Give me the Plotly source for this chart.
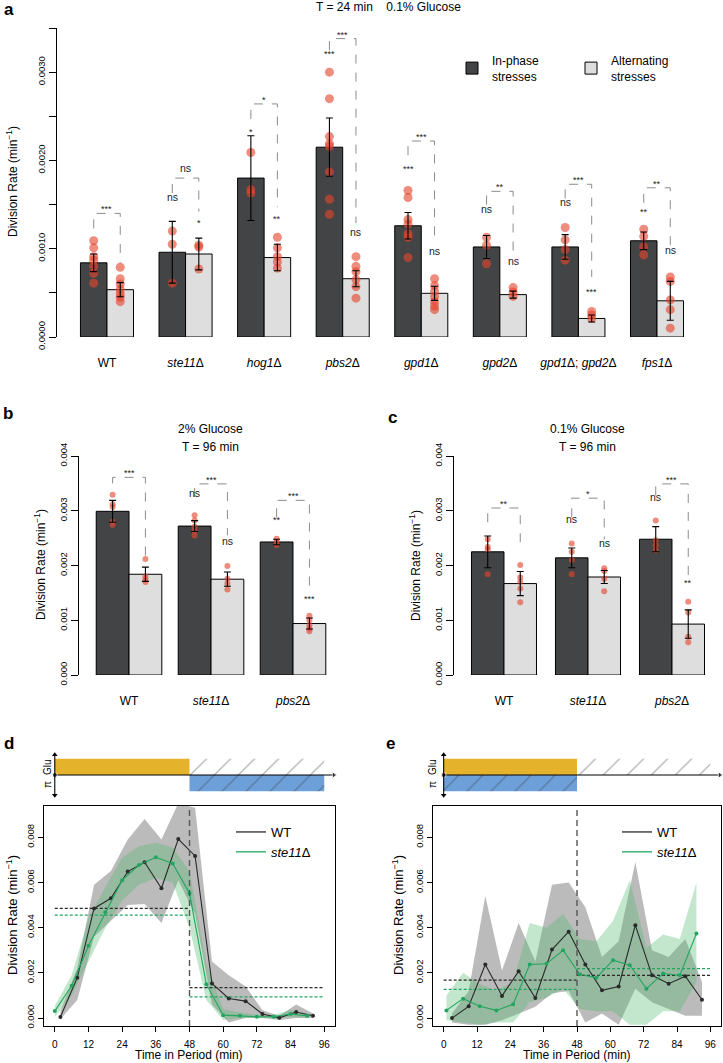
import plotly.graph_objects as go

W, H = 723, 1063
FONT = "Liberation Sans, Arial, Helvetica, sans-serif"

# ---------------- DATA ----------------
# Panel a: T = 24 min, 0.1% glucose
a_labels = ["WT", "<i>ste11</i>Δ", "<i>hog1</i>Δ", "<i>pbs2</i>Δ", "<i>gpd1</i>Δ",
            "<i>gpd2</i>Δ", "<i>gpd1</i>Δ; <i>gpd2</i>Δ", "<i>fps1</i>Δ"]
a_inphase = [0.00084, 0.00096, 0.00180, 0.00215, 0.00126, 0.00102, 0.00102, 0.00109]
a_alt = [0.000536, 0.00094, 0.00090, 0.00066, 0.000495, 0.00048, 0.00021, 0.00041]
a_inphase_se = [0.00010, 0.00035, 0.00048, 0.00033, 0.00015, 0.00013, 0.00014, 0.00010]
a_alt_se = [0.00008, 0.00018, 0.00015, 0.00009, 0.00008, 0.00004, 0.00004, 0.00022]
a_inphase_pts = [
    [0.00109, 0.00101, 0.00091, 0.00087, 0.00080, 0.00072, 0.00061],
    [0.00120, 0.00105, 0.00061],
    [0.00209, 0.00167, 0.00163],
    [0.00300, 0.00270, 0.00227, 0.00219, 0.00216, 0.00187, 0.00156, 0.00139],
    [0.00166, 0.00158, 0.00133, 0.00128, 0.00117, 0.00113, 0.00090],
    [0.00113, 0.00104, 0.00083],
    [0.00124, 0.00110, 0.00099, 0.00087],
    [0.00122, 0.00114, 0.00102, 0.00093]]
a_alt_pts = [
    [0.00079, 0.00066, 0.00060, 0.00054, 0.00049, 0.00045, 0.00040],
    [0.00104, 0.00102, 0.00077],
    [0.00113, 0.00101, 0.00091, 0.00085, 0.00078],
    [0.00091, 0.00080, 0.00074, 0.00065, 0.00057, 0.00044],
    [0.00066, 0.00058, 0.00052, 0.00046, 0.00040, 0.00035, 0.00031],
    [0.00056, 0.00051, 0.00046],
    [0.00029, 0.00025, 0.00021],
    [0.00068, 0.00063, 0.00042, 0.00031, 0.00010]]
a_sig_pair = ["***", "ns", "*", "***", "***", "**", "***", "**"]
a_sig_inphase = ["", "ns", "*", "***", "***", "ns", "ns", "**"]
a_sig_alt = ["", "*", "**", "ns", "ns", "ns", "***", "ns"]
a_br_top = [0.00140, 0.00180, 0.00264, 0.00338, 0.00222, 0.00165, 0.00173, 0.00169]
a_br_left = [0.00123, 0.00163, 0.00247, 0.00325, 0.00206, 0.00150, 0.00157, 0.00152]
a_br_right = [0.00084, 0.00142, 0.00147, 0.00129, 0.00106, 0.00093, 0.00068, 0.00104]
a_lab_inphase = [0, 0.00147, 0.00228, 0.00316, 0.00186, 0.00134, 0.00142, 0.00137]
a_lab_alt = [0, 0.00125, 0.00129, 0.00108, 0.00086, 0.00075, 0.00046, 0.00087]

# Panel b: 2% glucose, T = 96 min
bc_labels = ["WT", "<i>ste11</i>Δ", "<i>pbs2</i>Δ"]
b_inphase = [0.00299, 0.00272, 0.00243]
b_alt = [0.00184, 0.00175, 0.00094]
b_inphase_se = [0.00020, 0.00010, 0.00005]
b_alt_se = [0.00013, 0.00013, 0.00010]
b_inphase_pts = [[0.00329, 0.00312, 0.00307, 0.00280, 0.00274],
                 [0.00292, 0.00282, 0.00271, 0.00263, 0.00255],
                 [0.00249, 0.00243, 0.00237]]
b_alt_pts = [[0.00212, 0.00180, 0.00175, 0.00170],
             [0.00199, 0.00176, 0.00167, 0.00156],
             [0.00108, 0.00100, 0.00091, 0.00085, 0.00080]]
b_sig_pair = ["***", "***", "***"]
b_sig_inphase = ["", "ns", "**"]
b_sig_alt = ["", "ns", "***"]
b_br_top = [0.00361, 0.00349, 0.00319]
b_br_left = [0.00350, 0.00325, 0.00288]
b_br_right = [0.00214, 0.00255, 0.00150]
b_lab_inphase = [0, 0.00314, 0.00276]
b_lab_alt = [0, 0.00226, 0.00131]

# Panel c: 0.1% glucose, T = 96 min
c_inphase = [0.00225, 0.00214, 0.00248]
c_alt = [0.00167, 0.00179, 0.00093]
c_inphase_se = [0.00029, 0.00018, 0.00023]
c_alt_se = [0.00022, 0.00012, 0.00026]
c_inphase_pts = [[0.00248, 0.00234, 0.00229, 0.00184],
                 [0.00240, 0.00225, 0.00210, 0.00184],
                 [0.00282, 0.00246, 0.00237, 0.00228]]
c_alt_pts = [[0.00201, 0.00178, 0.00170, 0.00158, 0.00133],
             [0.00195, 0.00190, 0.00176, 0.00153],
             [0.00134, 0.00114, 0.00070, 0.00060]]
c_sig_pair = ["**", "*", "***"]
c_sig_inphase = ["", "ns", "ns"]
c_sig_alt = ["", "ns", "**"]
c_br_top = [0.00305, 0.00323, 0.00349]
c_br_left = [0.00279, 0.00288, 0.00328]
c_br_right = [0.00226, 0.00248, 0.00179]
c_lab_inphase = [0, 0.00266, 0.00307]
c_lab_alt = [0, 0.00223, 0.00161]

# Panel d: time course, in-phase
period = [0, 48, 96]
d_t_wt = [2, 8, 14, 20, 26, 32, 38, 44, 50, 56, 62, 68, 74, 80, 86, 92]
d_wt = [0.00005, 0.00178, 0.00485, 0.00530, 0.00648, 0.00689, 0.00574, 0.00792,
        0.00717, 0.00153, 0.00087, 0.00075, 0.00018, 0.00001, 0.00027, 0.00010]
d_wt_hi = [0.00030, 0.00220, 0.00590, 0.00650, 0.00790, 0.00880, 0.00790, 0.00950,
           0.00930, 0.00250, 0.00190, 0.00140, 0.00035, 0.00010, 0.00060, 0.00020]
d_wt_lo = [-0.00005, 0.00080, 0.00360, 0.00430, 0.00500, 0.00505, 0.00420, 0.00610,
           0.00460, 0.00060, -0.00020, 0.00000, 0.00000, -0.00008, 0.00000, 0.00000]
d_t_ste = [0, 6, 12, 18, 24, 30, 36, 42, 48, 54, 60, 66, 72, 78, 84, 90]
d_ste = [0.00031, 0.00143, 0.00320, 0.00468, 0.00610, 0.00677, 0.00711, 0.00684,
         0.00552, 0.00150, 0.00013, 0.00010, 0.00006, 0.00006, 0.00018, 0.00010]
d_ste_hi = [0.00055, 0.00190, 0.00440, 0.00580, 0.00710, 0.00760, 0.00775, 0.00755,
            0.00650, 0.00240, 0.00040, 0.00025, 0.00015, 0.00015, 0.00035, 0.00020]
d_ste_lo = [0.00005, 0.00100, 0.00250, 0.00400, 0.00520, 0.00590, 0.00620, 0.00600,
            0.00400, 0.00080, -0.00008, 0.00000, 0.00000, 0.00000, 0.00005, 0.00000]
d_wt_mean = [0.00485, 0.00135]
d_ste_mean = [0.00455, 0.00094]

# Panel e: time course, alternating
e_t_wt = [3, 9, 15, 21, 27, 33, 39, 45, 51, 57, 63, 69, 75, 81, 87, 93]
e_wt = [0.00000, 0.00052, 0.00237, 0.00098, 0.00207, 0.00089, 0.00303, 0.00382,
        0.00237, 0.00123, 0.00140, 0.00411, 0.00189, 0.00152, 0.00185, 0.00081]
e_wt_hi = [0.00020, 0.00120, 0.00540, 0.00210, 0.00420, 0.00250, 0.00590, 0.00600,
           0.00490, 0.00270, 0.00340, 0.00690, 0.00300, 0.00270, 0.00350, 0.00160]
e_wt_lo = [-0.00020, -0.00030, -0.00030, -0.00010, 0.00020, 0.00050, 0.00110, 0.00120,
           -0.00020, 0.00020, -0.00030, 0.00130, 0.00070, 0.00040, 0.00010, 0.00010]
e_t_ste = [1, 7, 13, 19, 25, 31, 37, 43, 49, 55, 61, 67, 73, 79, 85, 91]
e_ste = [0.00034, 0.00086, 0.00052, 0.00034, 0.00061, 0.00237, 0.00240, 0.00300,
         0.00194, 0.00178, 0.00256, 0.00234, 0.00130, 0.00197, 0.00189, 0.00374]
e_ste_hi = [0.00100, 0.00200, 0.00150, 0.00120, 0.00160, 0.00420, 0.00400, 0.00460,
            0.00350, 0.00340, 0.00430, 0.00610, 0.00310, 0.00370, 0.00350, 0.00600]
e_ste_lo = [-0.00010, -0.00020, -0.00030, -0.00020, -0.00020, 0.00070, 0.00090, 0.00130,
            0.00040, 0.00030, 0.00030, -0.00030, -0.00030, 0.00030, 0.00030, 0.00160]
e_wt_mean = [0.00168, 0.00189]
e_ste_mean = [0.00127, 0.00219]

# ---------------- STYLE ----------------
DARK = "#434445"
LIGHT = "#dedede"
PT = "rgba(228,70,45,0.62)"
GREEN = "#22a561"
BLACKL = "#2a2a2a"
YELLOW = "#e4b22b"
BLUE = "#6d9fd9"


def xdom(a, b):
    return [a / W, b / W]


def ydom(top, bottom):
    return [1 - bottom / H, 1 - top / H]


fig = go.Figure()
annotations = []
shapes = []


def bar_panel(n, labels, inph, alt, inse, altse, inpts, altpts, bw, ptsize,
              sig_pair, sig_in, sig_alt, br_top, br_l, br_r, lab_in, lab_alt, legend):
    xa, ya = "x" + ("" if n == 1 else str(n)), "y" + ("" if n == 1 else str(n))
    idx = list(range(len(labels)))
    fig.add_trace(go.Bar(x=idx, y=inph, width=bw, offset=-bw, xaxis=xa, yaxis=ya,
                         marker=dict(color=DARK, line=dict(color="black", width=1)),
                         name="In-phase<br>stresses", showlegend=legend, hoverinfo="skip"))
    fig.add_trace(go.Bar(x=idx, y=alt, width=bw, offset=0, xaxis=xa, yaxis=ya,
                         marker=dict(color=LIGHT, line=dict(color="black", width=1)),
                         name="Alternating<br>stresses", showlegend=legend, hoverinfo="skip"))
    for i in idx:
        for pts, off in ((inpts[i], -bw / 2), (altpts[i], bw / 2)):
            fig.add_trace(go.Scatter(x=[i + off] * len(pts), y=pts, mode="markers",
                                     xaxis=xa, yaxis=ya, showlegend=False, hoverinfo="skip",
                                     marker=dict(size=ptsize, color=PT, line=dict(width=0))))
    for vals, se, off in ((inph, inse, -bw / 2), (alt, altse, bw / 2)):
        fig.add_trace(go.Scatter(x=[i + off for i in idx], y=vals, mode="markers",
                                 xaxis=xa, yaxis=ya, showlegend=False, hoverinfo="skip",
                                 marker=dict(size=1, opacity=0),
                                 error_y=dict(type="data", array=se, color="black",
                                              thickness=1.1, width=3.5)))
    for i in idx:
        x0, x1 = i - bw / 2, i + bw / 2
        shapes.append(dict(type="path", xref=xa, yref=ya,
                           path=f"M {x0},{br_l[i]} L {x0},{br_top[i]} L {x1},{br_top[i]} L {x1},{br_r[i]}",
                           line=dict(color="#8c8c8c", width=1, dash="dash")))
        for txt, xx, yy in ((sig_pair[i], i, br_top[i]), (sig_in[i], x0, lab_in[i]),
                            (sig_alt[i], x1, lab_alt[i])):
            if not txt:
                continue
            star = txt.startswith("*")
            annotations.append(dict(x=xx, y=yy, xref=xa, yref=ya, text=txt, showarrow=False,
                                    yanchor="bottom", yshift=(-3 if star else 2),
                                    font=dict(size=(9 if star else 10.5), color="#222")))


bar_panel(1, a_labels, a_inphase, a_alt, a_inphase_se, a_alt_se, a_inphase_pts, a_alt_pts,
          0.3376, 9, a_sig_pair, a_sig_inphase, a_sig_alt, a_br_top, a_br_left, a_br_right,
          a_lab_inphase, a_lab_alt, True)
bar_panel(2, bc_labels, b_inphase, b_alt, b_inphase_se, b_alt_se, b_inphase_pts, b_alt_pts,
          0.40, 6, b_sig_pair, b_sig_inphase, b_sig_alt, b_br_top, b_br_left, b_br_right,
          b_lab_inphase, b_lab_alt, False)
bar_panel(3, bc_labels, c_inphase, c_alt, c_inphase_se, c_alt_se, c_inphase_pts, c_alt_pts,
          0.387, 6, c_sig_pair, c_sig_inphase, c_sig_alt, c_br_top, c_br_left, c_br_right,
          c_lab_inphase, c_lab_alt, False)


def time_panel(n, legend_name, t_wt, wt, wt_hi, wt_lo, t_ste, ste, ste_hi, ste_lo, wt_mean, ste_mean):
    xa, ya = "x" + str(n), "y" + str(n)
    fig.add_trace(go.Scatter(x=t_wt + t_wt[::-1], y=wt_hi + wt_lo[::-1], fill="toself",
                             fillcolor="rgba(120,120,120,0.5)", line=dict(width=0),
                             mode="lines", xaxis=xa, yaxis=ya, showlegend=False, hoverinfo="skip"))
    fig.add_trace(go.Scatter(x=t_ste + t_ste[::-1], y=ste_hi + ste_lo[::-1], fill="toself",
                             fillcolor="rgba(80,185,110,0.35)", line=dict(width=0),
                             mode="lines", xaxis=xa, yaxis=ya, showlegend=False, hoverinfo="skip"))
    for k in range(2):
        for m, col in ((wt_mean[k], BLACKL), (ste_mean[k], GREEN)):
            fig.add_trace(go.Scatter(x=[period[k], period[k + 1]], y=[m, m], mode="lines",
                                     line=dict(color=col, width=1.3, dash="3px,2px"),
                                     xaxis=xa, yaxis=ya, showlegend=False, hoverinfo="skip"))
    fig.add_trace(go.Scatter(x=t_wt, y=wt, mode="lines+markers", showlegend=False,
                             line=dict(color=BLACKL, width=1.1), marker=dict(size=4, color=BLACKL),
                             xaxis=xa, yaxis=ya))
    fig.add_trace(go.Scatter(x=t_ste, y=ste, mode="lines+markers", showlegend=False,
                             line=dict(color=GREEN, width=1.1), marker=dict(size=4, color=GREEN),
                             xaxis=xa, yaxis=ya))
    # legend entries (line only, as in the original key)
    for name, col in (("WT", BLACKL), ("<i>ste11</i>Δ", GREEN)):
        fig.add_trace(go.Scatter(x=[None], y=[None], mode="lines", name=name,
                                 line=dict(color=col, width=1.3), xaxis=xa, yaxis=ya,
                                 legend=legend_name))
    shapes.append(dict(type="line", xref=xa, yref=ya + " domain", x0=period[1], x1=period[1],
                       y0=0, y1=1, line=dict(color="#555", width=1.4, dash="6px,4px")))


time_panel(4, "legend2", d_t_wt, d_wt, d_wt_hi, d_wt_lo, d_t_ste, d_ste, d_ste_hi, d_ste_lo,
           d_wt_mean, d_ste_mean)
time_panel(5, "legend3", e_t_wt, e_wt, e_wt_hi, e_wt_lo, e_t_ste, e_ste, e_ste_hi, e_ste_lo,
           e_wt_mean, e_ste_mean)


# Stimulus diagrams (glucose above axis, osmotic stress below)
def block(n, x0, x1, y0, y1, color, hatch):
    xa, ya = "x" + str(n), "y" + str(n)
    kw = dict(x=[x0, x1, x1, x0, x0], y=[y0, y0, y1, y1, y0], fill="toself", mode="lines",
              line=dict(width=0), xaxis=xa, yaxis=ya, showlegend=False, hoverinfo="skip",
              fillcolor=color)
    if hatch:
        kw["fillpattern"] = dict(shape="/", bgcolor=color, fgcolor="#3a3a3a", size=17, solidity=0.06)
    fig.add_trace(go.Scatter(**kw))


# d: in-phase -> glucose first half, osmotic second half
block(6, period[0], period[1], 0, 1, YELLOW, False)
block(6, period[1], period[2], 0, 1, "rgba(255,255,255,0)", True)
block(6, period[1], period[2], -1, 0, BLUE, True)
# e: alternating
block(7, period[0], period[1], 0, 1, YELLOW, False)
block(7, period[0], period[1], -1, 0, BLUE, True)
block(7, period[1], period[2], 0, 1, "rgba(255,255,255,0)", True)

# diagram axes: horizontal time arrow and vertical double-headed level arrow
for n in (6, 7):
    xa, ya = "x" + str(n), "y" + str(n)
    fig.add_trace(go.Scatter(x=[0, 99.4], y=[0, 0], mode="lines+markers", xaxis=xa, yaxis=ya,
                             line=dict(color="black", width=1.1), cliponaxis=False,
                             marker=dict(symbol=["circle", "triangle-right"], size=[5, 6],
                                         color="black"),
                             showlegend=False, hoverinfo="skip"))
    fig.add_trace(go.Scatter(x=[0, 0], y=[-1.25, 1.25], mode="lines+markers", xaxis=xa, yaxis=ya,
                             line=dict(color="black", width=1.1), cliponaxis=False,
                             marker=dict(symbol=["triangle-down", "triangle-up"], size=5,
                                         color="black"),
                             showlegend=False, hoverinfo="skip"))

# ---------------- AXES ----------------
yt_a = [0, 0.001, 0.002, 0.003]
yt_a_txt = ["0.0000", "0.0010", "0.0020", "0.0030"]
yt_bc = [0, 0.001, 0.002, 0.003, 0.004]
yt_bc_txt = ["0.000", "0.001", "0.002", "0.003", "0.004"]
yt_de = [0, 0.002, 0.004, 0.006, 0.008]
yt_de_txt = ["0.000", "0.002", "0.004", "0.006", "0.008"]
xt_de = [0, 12, 24, 36, 48, 60, 72, 84, 96]

cat_axis = dict(showline=False, ticks="", zeroline=False, showgrid=False,
                tickfont=dict(size=12), ticklabelstandoff=17)
val_axis = dict(showline=True, linecolor="black", linewidth=1, ticks="outside", ticklen=7,
                tickcolor="black", tickangle=-90, zeroline=False, showgrid=False,
                tickfont=dict(size=9.5))
box_x = dict(showline=True, mirror=True, linecolor="black", linewidth=1.2, ticks="outside",
             ticklen=5, tickcolor="black", zeroline=False, showgrid=False,
             tickfont=dict(size=10), range=[-3.84, 99.84], tickvals=xt_de,
             ticklabelstandoff=4)
box_y = dict(showline=True, mirror=True, linecolor="black", linewidth=1.2, ticks="outside",
             ticklen=5, tickcolor="black", zeroline=False, showgrid=False, tickangle=-90,
             tickfont=dict(size=9.5), range=[-0.00035, 0.00938], tickvals=yt_de,
             ticktext=yt_de_txt)
hidden = dict(visible=False, showgrid=False, zeroline=False)

fig.update_layout(
    width=W, height=H, autosize=False,
    margin=dict(l=0, r=0, t=0, b=0, pad=0, autoexpand=False),
    paper_bgcolor="white", plot_bgcolor="white",
    font=dict(family=FONT, color="black", size=12),
    barmode="overlay",
    xaxis=dict(cat_axis, domain=xdom(57, 712), range=[-0.636, 7.70], tickvals=list(range(8)),
               ticktext=a_labels, anchor="y"),
    yaxis=dict(val_axis, domain=ydom(28, 337), range=[0, 0.0035], tickvals=yt_a,
               ticktext=yt_a_txt, anchor="x",
               minor=dict(tickvals=[0.0005, 0.0015, 0.0025, 0.0035], ticks="outside",
                          ticklen=7, tickcolor="black", showgrid=False)),
    xaxis2=dict(cat_axis, domain=xdom(79, 345), range=[-0.61, 2.634], tickvals=[0, 1, 2],
                ticktext=bc_labels, anchor="y2"),
    yaxis2=dict(val_axis, domain=ydom(456, 675), range=[0, 0.004], tickvals=yt_bc,
                ticktext=yt_bc_txt, anchor="x2"),
    xaxis3=dict(cat_axis, domain=xdom(454, 715), range=[-0.595, 2.512], tickvals=[0, 1, 2],
                ticktext=bc_labels, anchor="y3"),
    yaxis3=dict(val_axis, domain=ydom(456, 675), range=[0, 0.004], tickvals=yt_bc,
                ticktext=yt_bc_txt, anchor="x3"),
    xaxis4=dict(box_x, domain=xdom(44, 335), anchor="y4"),
    yaxis4=dict(box_y, domain=ydom(806, 1026), anchor="x4"),
    xaxis5=dict(box_x, domain=xdom(433, 721), anchor="y5"),
    yaxis5=dict(box_y, domain=ydom(806, 1026), anchor="x5"),
    xaxis6=dict(hidden, domain=xdom(44, 335), range=[-3.84, 99.84], anchor="y6"),
    yaxis6=dict(hidden, domain=ydom(753, 797), range=[-1.35, 1.35], anchor="x6"),
    xaxis7=dict(hidden, domain=xdom(433, 721), range=[-3.84, 99.84], anchor="y7"),
    yaxis7=dict(hidden, domain=ydom(753, 797), range=[-1.35, 1.35], anchor="x7"),
    legend=dict(orientation="h", x=452 / W, y=1 - 46 / H, xanchor="left", yanchor="top",
                bgcolor="rgba(0,0,0,0)", font=dict(size=12), entrywidth=74,
                entrywidthmode="pixels", traceorder="normal"),
    legend2=dict(x=231 / W, y=1 - 817 / H, xanchor="left", yanchor="top",
                 bgcolor="rgba(0,0,0,0)", font=dict(size=13)),
    legend3=dict(x=617 / W, y=1 - 817 / H, xanchor="left", yanchor="top",
                 bgcolor="rgba(0,0,0,0)", font=dict(size=13)),
)


def txt(x, y, s, size=12, angle=0, bold=False):
    annotations.append(dict(x=x / W, y=1 - y / H, xref="paper", yref="paper", text=s,
                            showarrow=False, textangle=angle, xanchor="center", yanchor="middle",
                            font=dict(size=size, family=FONT, weight=("bold" if bold else "normal"))))


# panel letters
txt(9, 9, "a", 17, bold=True)
txt(8, 413, "b", 17, bold=True)
txt(392, 417, "c", 17, bold=True)
txt(9, 743, "d", 17, bold=True)
txt(390, 743, "e", 17, bold=True)
# titles
txt(388, 7, "T = 24 min    0.1% Glucose", 12)
txt(210, 429, "2% Glucose", 12)
txt(210, 447, "T = 96 min", 12)
txt(587, 429, "0.1% Glucose", 12)
txt(587, 447, "T = 96 min", 12)
# axis titles
txt(12, 182, "Division Rate (min<sup>−1</sup>)", 12, -90)
txt(40, 565, "Division Rate (min<sup>−1</sup>)", 12, -90)
txt(415, 565, "Division Rate (min<sup>−1</sup>)", 12, -90)
txt(12, 915, "Division Rate (min<sup>−1</sup>)", 13, -90)
txt(398, 915, "Division Rate (min<sup>−1</sup>)", 13, -90)
txt(189, 1055, "Time in Period (min)", 12)
txt(577, 1055, "Time in Period (min)", 12)
# diagram labels
for xx in (47, 432):
    txt(xx, 767, "Glu", 10, -90)
    txt(xx, 785, "π", 10, -90)

fig.update_layout(annotations=annotations, shapes=shapes)
fig.write_html("out.html", config={"displayModeBar": False},
               post_script="document.body.style.margin='0px';")
